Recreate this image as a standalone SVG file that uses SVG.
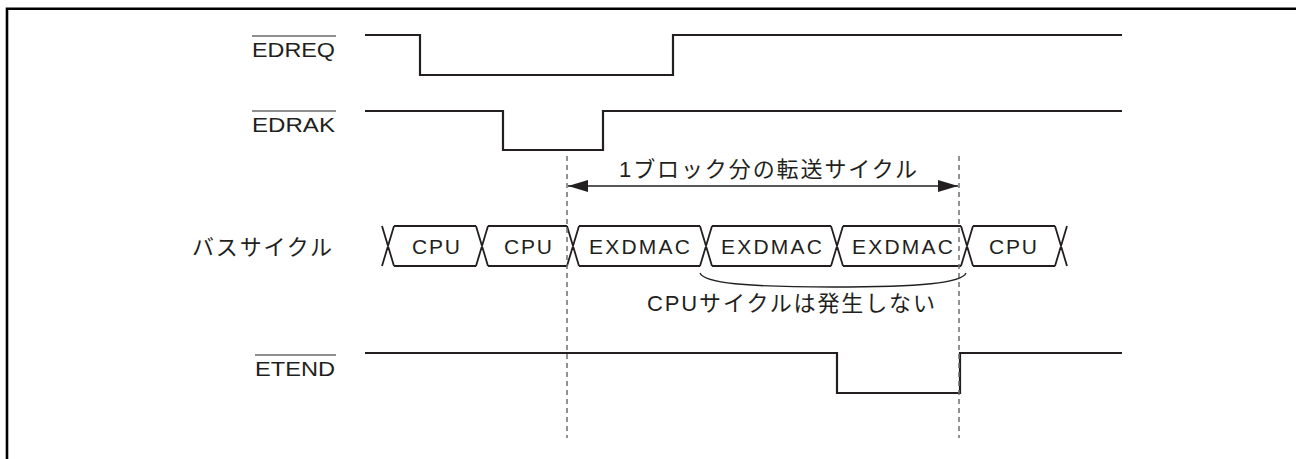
<svg xmlns="http://www.w3.org/2000/svg" width="1296" height="459" viewBox="0 0 1296 459">
<style>
.sig{fill:none;stroke:#231f20;stroke-width:2.2;stroke-linejoin:miter}
.bus{fill:none;stroke:#231f20;stroke-width:1.8}
.dash{fill:none;stroke:#6d6e71;stroke-width:1.5;stroke-dasharray:5,4}
.ol{stroke:#231f20;stroke-width:1.2}
.t{font-family:"Liberation Sans",Arial,"Noto Sans CJK JP",sans-serif;font-size:21px;fill:#231f20}
.j{font-size:22px}
.arr{fill:none;stroke:#231f20;stroke-width:1.3}
</style>
<defs>
<marker id="ah" viewBox="0 0 20 12" refX="20" refY="6" markerWidth="20" markerHeight="12" markerUnits="userSpaceOnUse" orient="auto-start-reverse">
<path d="M0,0 L20,6 L0,12 Z" fill="#231f20"/>
</marker>
</defs>
<rect width="1296" height="459" fill="#fff"/>
<path d="M7,459 V8.7 H1296" fill="none" stroke="#000" stroke-width="2.6"/>

<g id="edreq">
<text class="t" x="252" y="57" textLength="83" lengthAdjust="spacingAndGlyphs">EDREQ</text>
<line class="ol" x1="252" y1="36" x2="336" y2="36"/>
<path class="sig" d="M365,35 H420 V75 H673 V35 H1122"/>
</g>

<g id="edrak">
<text class="t" x="252" y="132" textLength="83" lengthAdjust="spacingAndGlyphs">EDRAK</text>
<line class="ol" x1="252" y1="111" x2="336" y2="111"/>
<path class="sig" d="M365,111 H503 V150 H603 V111 H1122"/>
</g>

<g id="buscycle">
<text class="t j" x="192" y="255" textLength="140" lengthAdjust="spacing">バスサイクル</text>
<path class="bus" d="M382,226 L394,266 M382,266 L394,226
M394,226 H476 M394,266 H476
M476,226 L488,266 M476,266 L488,226
M488,226 H567 M488,266 H567
M567,226 L579,266 M567,266 L579,226
M579,226 H700 M579,266 H700
M700,226 L712,266 M700,266 L712,226
M712,226 H831 M712,266 H831
M831,226 L843,266 M831,266 L843,226
M843,226 H961 M843,266 H961
M961,226 L973,266 M961,266 L973,226
M973,226 H1055 M973,266 H1055
M1055,226 L1067,266 M1055,266 L1067,226"/>
<text class="t" x="412" y="254" textLength="48" lengthAdjust="spacing">CPU</text>
<text class="t" x="504" y="254" textLength="48" lengthAdjust="spacing">CPU</text>
<text class="t" x="589" y="254" textLength="101" lengthAdjust="spacing">EXDMAC</text>
<text class="t" x="721" y="254" textLength="101" lengthAdjust="spacing">EXDMAC</text>
<text class="t" x="852" y="254" textLength="101" lengthAdjust="spacing">EXDMAC</text>
<text class="t" x="989" y="254" textLength="48" lengthAdjust="spacing">CPU</text>
</g>

<g id="etend">
<text class="t" x="255" y="376" textLength="80" lengthAdjust="spacingAndGlyphs">ETEND</text>
<line class="ol" x1="255" y1="355" x2="336" y2="355"/>
<path class="sig" d="M365,353 H837 V393 H960 V353 H1122"/>
</g>

<g id="connectors">
<line class="dash" x1="567" y1="156" x2="567" y2="438"/>
<line class="dash" x1="959" y1="156" x2="959" y2="438"/>
<line class="arr" x1="568" y1="186" x2="958" y2="186" marker-start="url(#ah)" marker-end="url(#ah)"/>
<path class="arr" d="M700,273 C704,283 745,287 833,287 C921,287 962,283 966,273"/>
</g>

<g id="labels">
<text class="t j" x="619" y="177" textLength="298" lengthAdjust="spacing">1ブロック分の転送サイクル</text>
<text class="t j" x="647" y="311" textLength="288" lengthAdjust="spacing">CPUサイクルは発生しない</text>
</g>
</svg>
